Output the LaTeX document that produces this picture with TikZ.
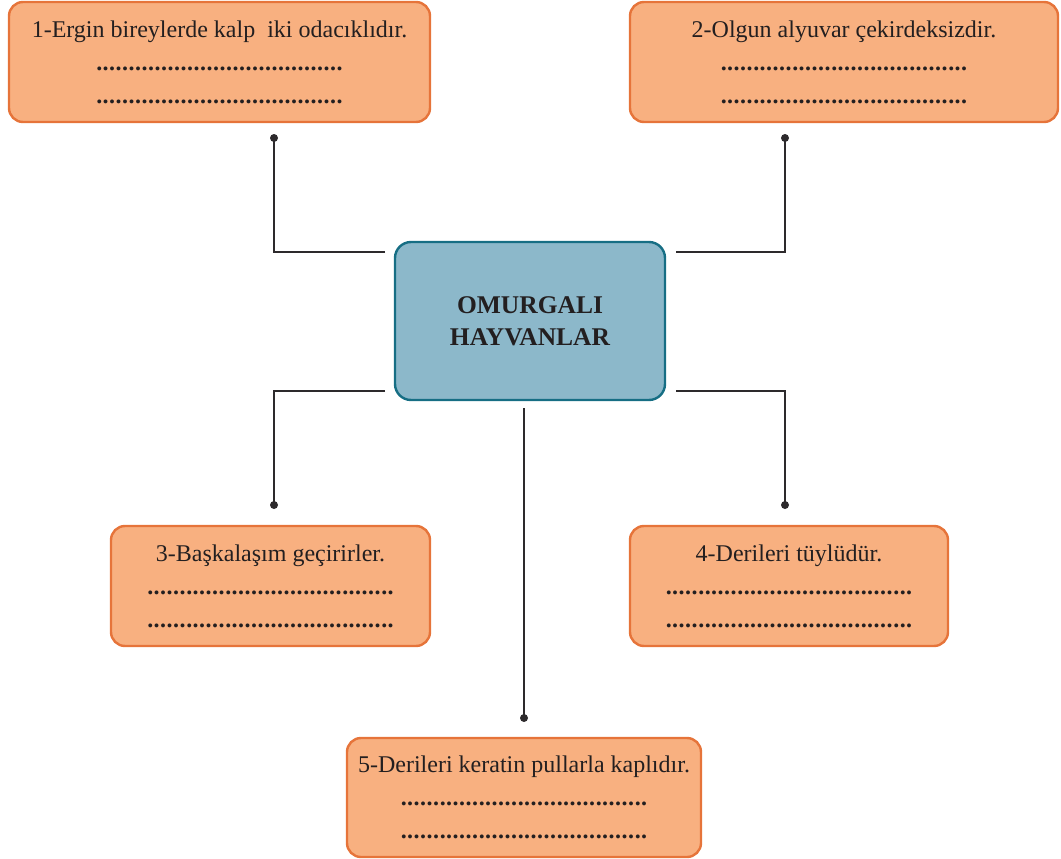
\documentclass[tikz,border=0pt]{standalone}
\usepackage{fontspec}
\setmainfont{Liberation Serif}
\begin{document}
\definecolor{boxfill}{RGB}{248,176,128}
\definecolor{boxline}{RGB}{230,116,58}
\definecolor{hubfill}{RGB}{140,184,202}
\definecolor{hubline}{RGB}{22,110,132}
\definecolor{ink}{RGB}{35,31,32}
\definecolor{wire}{RGB}{45,42,44}
% a row of answer dots
\newcommand{\blank}{\hbox to 247pt{\xleaders\hbox to 6.5pt{\hss\bfseries.\hss}\hfill}}
\begin{tikzpicture}[x=1pt,y=-1pt,
  factbox/.style={draw=boxline,fill=boxfill,line width=2.4pt,rounded corners=14pt,
    inner sep=0pt,align=center,text=ink,font=\fontsize{24}{33}\selectfont},
  hubbox/.style={draw=hubline,fill=hubfill,line width=2.4pt,rounded corners=16pt,
    inner sep=0pt,align=center,text=ink,font=\fontsize{25.5}{32}\selectfont\bfseries},
  wireline/.style={draw=wire,line width=1.8pt},
  pin/.style={fill=wire,circle,inner sep=0pt,minimum size=8pt}]
\useasboundingbox (0,0) rectangle (1061,859);

% central node
\node[hubbox,minimum width=270pt,minimum height=158pt] (hub) at (530,321)
  {OMURGALI\\HAYVANLAR};

% statement boxes
\node[factbox,minimum width=421pt,minimum height=120pt] (b1) at (219.5,62)
  {1-Ergin bireylerde kalp\ \ iki odacıklıdır.\\\blank\\\blank};
\node[factbox,minimum width=428pt,minimum height=120pt] (b2) at (844,62)
  {2-Olgun alyuvar çekirdeksizdir.\\\blank\\\blank};
\node[factbox,minimum width=319pt,minimum height=120pt] (b3) at (270.5,586)
  {3-Başkalaşım geçirirler.\\\blank\\\blank};
\node[factbox,minimum width=318pt,minimum height=120pt] (b4) at (789,586)
  {4-Derileri tüylüdür.\\\blank\\\blank};
\node[factbox,minimum width=354pt,minimum height=119pt] (b5) at (524,797.5)
  {5-Derileri keratin pullarla kaplıdır.\\\blank\\\blank};

% connector ends
\coordinate (h1) at (385,252);
\coordinate (h2) at (676,252);
\coordinate (h3) at (385,391);
\coordinate (h4) at (676,391);
\coordinate (h5) at (524,408);
\node[pin] (p1) at (274,138) {};
\node[pin] (p2) at (785,138) {};
\node[pin] (p3) at (274,505) {};
\node[pin] (p4) at (785,505) {};
\node[pin] (p5) at (524,718) {};

% connectors
\draw[wireline] (h1) -| (p1.center);
\draw[wireline] (h2) -| (p2.center);
\draw[wireline] (h3) -| (p3.center);
\draw[wireline] (h4) -| (p4.center);
\draw[wireline] (h5) -- (p5.center);
\end{tikzpicture}
\end{document}
